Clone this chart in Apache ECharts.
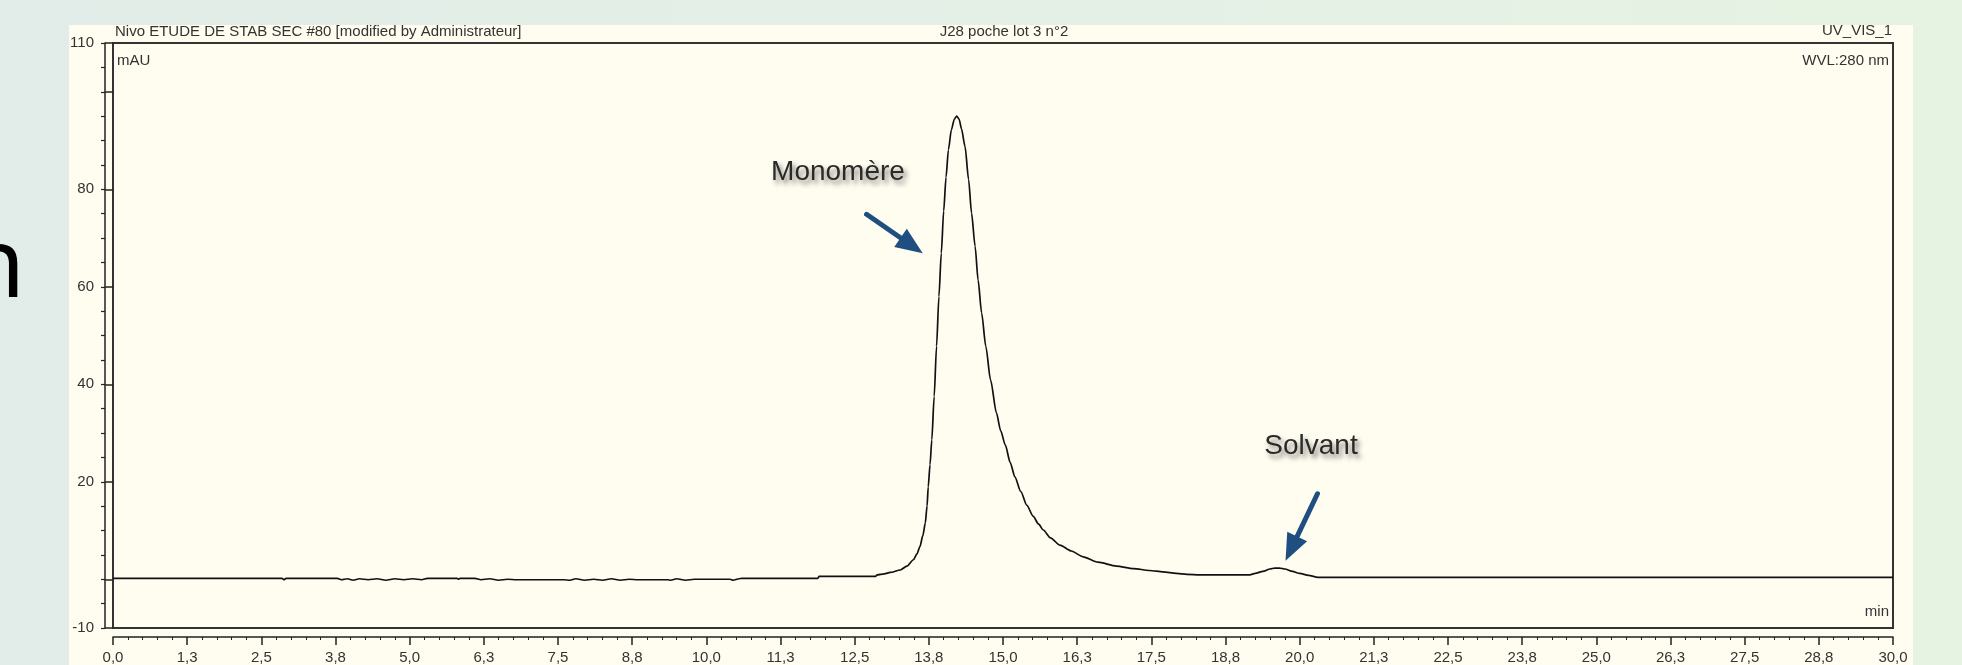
<!DOCTYPE html>
<html>
<head>
<meta charset="utf-8">
<script src="https://cdn.jsdelivr.net/npm/echarts@6/dist/echarts.min.js"></script>
<style>
html,body{margin:0;padding:0;}
body{width:1962px;height:665px;overflow:hidden;background:linear-gradient(90deg,#e2ece8 0%,#e4f0e6 55%,#e6f3e2 100%);}
#chart{width:1962px;height:665px;}
</style>
</head>
<body>
<div id="chart"></div>
<script>
// Retention time (min)
const times = [
  0, 2.85, 2.88, 2.92, 3.78,
  3.85, 3.95, 4.05, 4.15, 4.3, 4.45, 4.6, 4.75, 4.9, 5.05, 5.2, 5.3,
  5.8, 5.82, 5.85,
  6.1, 6.2, 6.35, 6.5, 6.65, 6.8, 7.6,
  7.7, 7.8, 7.95, 8.1, 8.25, 8.4, 8.55, 8.7, 8.85, 9.35,
  9.4, 9.5, 9.65, 9.8, 10.0, 10.4, 10.45, 10.55, 10.6,
  11.88, 11.9, 12.85, 12.88,
  13.0, 13.1, 13.27, 13.38, 13.49, 13.55, 13.6, 13.65, 13.69, 13.72, 13.74, 13.77, 13.8,
  13.84, 13.88, 13.92, 13.96, 14.0, 14.04, 14.08, 14.13, 14.18, 14.22, 14.26, 14.3,
  14.36, 14.42, 14.47, 14.53, 14.58, 14.64, 14.71, 14.79, 14.89, 14.96, 15.04, 15.12,
  15.2, 15.3, 15.4, 15.51, 15.6, 15.68, 15.8, 15.96, 16.15, 16.35, 16.6, 16.91, 17.2,
  17.47, 17.7, 17.92, 18.1, 18.32, 19.16, 19.25, 19.38, 19.5, 19.58, 19.66, 19.75,
  19.88, 20.0, 20.15, 20.31, 30
];
// Absorbance (mAU)
const absorbance = [
  0.2, 0.2, -0.1, 0.2, 0.2,
  -0.1, 0.1, -0.2, 0.1, -0.1, 0.1, -0.2, 0.1, -0.1, 0.1, -0.1, 0.2,
  0.2, 0.0, 0.2,
  0.2, -0.1, 0.1, -0.2, 0.0, -0.1, -0.1,
  -0.2, 0.1, -0.2, 0.0, -0.2, 0.1, -0.2, 0.0, -0.1, -0.1,
  -0.2, 0.1, -0.2, 0.0, 0.0, 0.0, -0.2, 0.1, 0.2,
  0.2, 0.6, 0.6, 0.9,
  1.1, 1.4, 1.9, 2.7, 4.0, 5.2, 6.7, 9.0, 11.5, 15.0, 19.0, 23.5, 28.6,
  37.5, 47.8, 58.0, 66.9, 75.5, 82.5, 88.1, 92.2, 94.4, 95.0, 94.4, 92.4,
  88.8, 82.0, 75.1, 68.3, 61.4, 54.6, 47.8, 40.9, 34.1, 30.5, 27.5, 24.0,
  21.0, 18.0, 15.2, 12.9, 11.3, 10.1, 8.5, 7.0, 5.8, 4.6, 3.5, 2.7, 2.2,
  1.8, 1.5, 1.2, 1.0, 0.9, 0.9, 1.2, 1.6, 2.1, 2.3, 2.3, 2.1,
  1.6, 1.2, 0.8, 0.4, 0.4
];
const xTickLabels = ['0,0','1,3','2,5','3,8','5,0','6,3','7,5','8,8','10,0','11,3','12,5','13,8','15,0',
  '16,3','17,5','18,8','20,0','21,3','22,5','23,8','25,0','26,3','27,5','28,8','30,0'];
const yLabelValues = [-10, 20, 40, 60, 80, 110];
const yMajorTickValues = [-10, 0, 20, 40, 60, 80, 100, 110];
// annotation arrows: [start time, start mAU] -> [head time, head mAU]
const monoArrow = [[12.70, 74.86], [13.46, 68.45]];
const solvArrow = [[20.30, 17.53], [19.86, 6.29]];

const seriesData = times.map((t, i) => [t, absorbance[i]]);

const chart = echarts.init(document.getElementById('chart'), null, {renderer: 'canvas'});
const FONT = '"Liberation Sans", Arial, sans-serif';
const labelStyle = {color: '#333', fontSize: 15, fontFamily: FONT};
const arrowColor = '#1f4e80';
const annoShadow = {textShadowColor: 'rgba(0,0,0,0.5)', textShadowBlur: 5, textShadowOffsetX: 3, textShadowOffsetY: 4};

chart.setOption({
  backgroundColor: 'transparent',
  animation: false,
  grid: {left: 113, right: 69, top: 43, bottom: 37, show: true,
    backgroundColor: '#fffcf0', borderColor: '#333', borderWidth: 2, containLabel: false},
  xAxis: {
    type: 'value', min: 0, max: 30, interval: 1.25, offset: 9,
    axisLine: {show: true, onZero: false, lineStyle: {color: '#222', width: 1.5}},
    axisTick: {show: true, length: 8, lineStyle: {color: '#222', width: 1.5}},
    minorTick: {show: true, splitNumber: 5, length: 3, lineStyle: {color: '#222', width: 1}},
    splitLine: {show: false},
    axisLabel: Object.assign({margin: 13,
      formatter: v => xTickLabels[Math.round(v / 1.25)] || ''}, labelStyle)
  },
  yAxis: [
    {
      type: 'value', min: -10, max: 110, interval: 5, offset: 8, position: 'left',
      axisLine: {show: true, onZero: false, lineStyle: {color: '#222', width: 1.5}},
      axisTick: {show: true, length: 4, lineStyle: {color: '#222', width: 1.2}},
      axisLabel: {show: false},
      splitLine: {show: false}
    },
    {
      type: 'value', min: -10, max: 110, interval: 5, offset: 8, position: 'left',
      axisLine: {show: false},
      axisTick: {show: true, length: 8, customValues: yMajorTickValues, lineStyle: {color: '#222', width: 1.5}},
      axisLabel: Object.assign({show: true, margin: 11, customValues: yLabelValues}, labelStyle),
      splitLine: {show: false}
    }
  ],
  series: [{
    type: 'line', data: seriesData, yAxisIndex: 0, showSymbol: false, symbol: 'none',
    smooth: 0.25, smoothMonotone: 'x', silent: true,
    lineStyle: {color: '#111', width: 1.7},
    markLine: {
      silent: true, animation: false,
      label: {show: false},
      lineStyle: {color: arrowColor, width: 5, type: 'solid', cap: 'round'},
      emphasis: {disabled: true},
      data: [
        [{coord: monoArrow[0], symbol: 'none'}, {coord: monoArrow[1], symbol: 'triangle', symbolSize: [22, 27]}],
        [{coord: solvArrow[0], symbol: 'none'}, {coord: solvArrow[1], symbol: 'triangle', symbolSize: [22, 27]}]
      ]
    }
  }],
  graphic: [
    {type: 'rect', z: -100, silent: true, shape: {x: 69, y: 25, width: 1844, height: 660},
      style: {fill: '#fffcf0'}},
    {type: 'text', z: 100, silent: true, x: 25, y: 270,
      style: {text: 'n', font: '96px "Noto Sans", sans-serif', fill: '#000', align: 'right', verticalAlign: 'middle'}},
    {type: 'text', z: 100, silent: true, x: 115, y: 32,
      style: {text: 'Nivo ETUDE DE STAB SEC #80 [modified by Administrateur]', font: '15px ' + FONT, fill: '#333', align: 'left', verticalAlign: 'middle'}},
    {type: 'text', z: 100, silent: true, x: 1004, y: 32,
      style: {text: 'J28 poche lot 3 n°2', font: '15px ' + FONT, fill: '#333', align: 'center', verticalAlign: 'middle'}},
    {type: 'text', z: 100, silent: true, x: 1892, y: 31,
      style: {text: 'UV_VIS_1', font: '15px ' + FONT, fill: '#333', align: 'right', verticalAlign: 'middle'}},
    {type: 'text', z: 100, silent: true, x: 117, y: 61,
      style: {text: 'mAU', font: '15px ' + FONT, fill: '#333', align: 'left', verticalAlign: 'middle'}},
    {type: 'text', z: 100, silent: true, x: 1889, y: 61,
      style: {text: 'WVL:280 nm', font: '15px ' + FONT, fill: '#333', align: 'right', verticalAlign: 'middle'}},
    {type: 'text', z: 100, silent: true, x: 1889, y: 612,
      style: {text: 'min', font: '15px ' + FONT, fill: '#333', align: 'right', verticalAlign: 'middle'}},
    {type: 'text', z: 100, silent: true, x: 838, y: 172,
      style: Object.assign({text: 'Monomère', font: '28px ' + FONT, fill: '#2a2a2a', align: 'center', verticalAlign: 'middle'}, annoShadow)},
    {type: 'text', z: 100, silent: true, x: 1311, y: 446,
      style: Object.assign({text: 'Solvant', font: '28px ' + FONT, fill: '#2a2a2a', align: 'center', verticalAlign: 'middle'}, annoShadow)}
  ]
});
</script>
</body>
</html>
